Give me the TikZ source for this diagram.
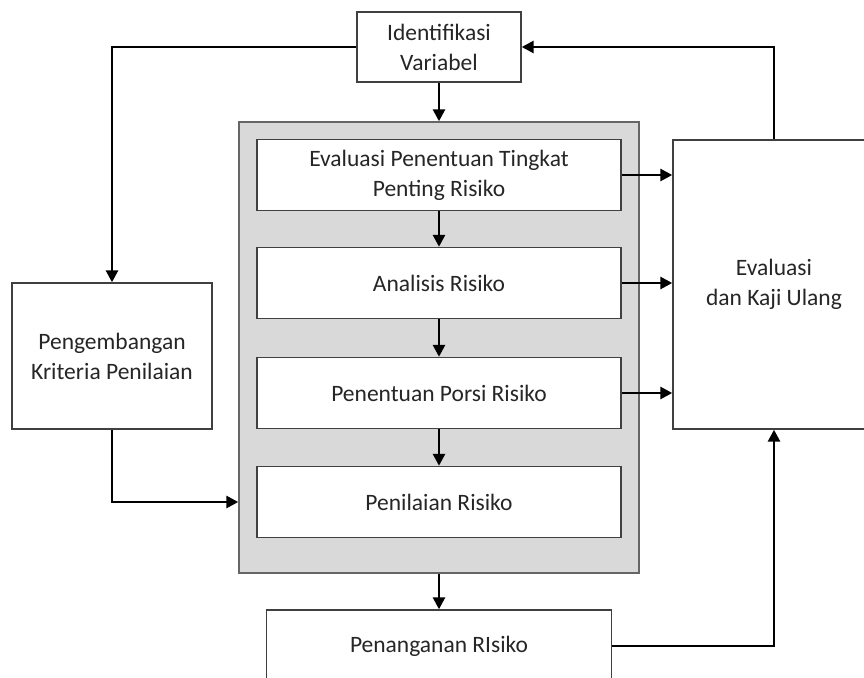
\documentclass[tikz,border=0pt]{standalone}
\usepackage{fontspec}
\setmainfont{Carlito}
\usetikzlibrary{arrows.meta}
\begin{document}
\begin{tikzpicture}[x=1pt,y=-1pt,
  box/.style={draw=black!75, line width=1.4pt, fill=white, align=center,
    font=\fontsize{23.5}{30}\selectfont, text=black!85, inner sep=0pt},
  group/.style={draw=black!60, line width=1.4pt, fill=black!15, inner sep=0pt},
  flow/.style={line width=2.7pt, -{Triangle[length=12pt,width=12pt]}}]
\useasboundingbox (0,0) rectangle (864,677);
\clip (0,0) rectangle (864,677);

% stages of the risk assessment
\node[box, minimum width=164pt, minimum height=70pt] (ident) at (439,47) {Identifikasi\\Variabel};
\node[group, minimum width=400pt, minimum height=451pt] (grp) at (439,347.5) {};
\node[box, minimum width=364pt, minimum height=71pt] (b1) at (439,175) {Evaluasi Penentuan Tingkat\\Penting Risiko};
\node[box, minimum width=364pt, minimum height=71pt] (b2) at (439,283) {Analisis Risiko};
\node[box, minimum width=364pt, minimum height=71pt] (b3) at (439,393) {Penentuan Porsi Risiko};
\node[box, minimum width=364pt, minimum height=71pt] (b4) at (439,502) {Penilaian Risiko};
\node[box, minimum width=202pt, minimum height=289pt] (eval) at (774,284.5) {Evaluasi\\dan Kaji Ulang};
\node[box, minimum width=200pt, minimum height=146pt] (peng) at (112,356) {Pengembangan\\Kriteria Penilaian};
\node[box, minimum width=345pt, minimum height=72pt] (pen) at (439,646) {Penanganan RIsiko};

% connectors
\draw[flow] (ident) -- (grp);
\draw[flow] (b1) -- (b2);
\draw[flow] (b2) -- (b3);
\draw[flow] (b3) -- (b4);
\draw[flow] (b1.east) -- (b1.east -| eval.west);
\draw[flow] (b2.east) -- (b2.east -| eval.west);
\draw[flow] (b3.east) -- (b3.east -| eval.west);
\draw[flow] (ident.west) -| (peng.north);
\draw[flow] (eval.north) |- (ident.east);
\draw[flow] (peng.south) |- (b4.west -| grp.west);
\draw[flow] (grp) -- (pen);
\draw[flow] (pen.east) -| (eval.south);
\end{tikzpicture}
\end{document}
